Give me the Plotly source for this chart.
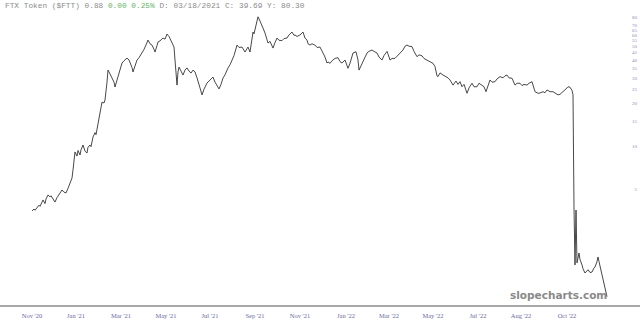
import plotly.graph_objects as go

# bar number (sequential session index) and close price
bars = [32,34,35,37,39,40,42,43,45,46,48,50,51,53,55,57,59,62,64,66,68,70,72,73,74,75,77,78,80,81,83,85,87,88,90,91,93,95,96,98,
        100,101,102,104,105,107,108,110,112,114,115,117,118,120,122,124,127,129,130,132,133,135,137,139,142,144,146,148,150,152,
        154,155,157,158,160,163,165,167,169,172,174,175,176,177,178,179,181,183,185,187,189,191,193,195,197,198,200,202,204,207,
        209,211,213,215,217,219,221,223,225,226,228,230,232,234,237,239,242,244,245,247,248,250,251,253,254,255,257,258,260,262,
        263,265,267,268,270,273,275,277,279,282,284,287,289,292,294,295,297,300,303,305,307,308,310,312,315,317,320,322,323,325,
        327,328,330,332,335,338,340,342,345,347,348,350,353,356,358,359,361,363,365,367,369,372,374,377,379,382,384,387,389,390,
        392,395,397,400,403,405,407,409,412,414,417,419,422,424,427,430,433,435,437,438,440,443,446,448,450,452,453,456,458,460,
        462,464,466,467,469,472,474,477,479,482,484,486,488,490,492,495,497,500,503,505,507,509,512,514,515,517,520,522,524,527,
        529,532,534,535,538,540,543,545,547,550,553,555,558,560,563,565,567,568,570,572,573,574,575,576,577,579,580,582,583,585,
        587,588,590,592,594,595,597,598,599,601,602,603,605,607]
close = [3.51,3.62,3.55,3.68,3.85,3.78,4.05,4.19,3.95,4.25,4.54,4.40,4.48,4.25,4.05,4.35,4.60,4.92,4.75,4.69,
         5.05,5.50,5.97,6.8,8.2,9.08,8.5,9.3,8.65,9.4,10.16,9.2,8.93,9.8,10.16,9.9,11.56,12.4,12.0,14.49,
         17.0,19.5,20.3,20.0,20.99,28.0,34.0,32.0,29.9,28.0,25.9,29.0,30.4,34.5,38.1,39.5,41.3,40.0,38.7,35.5,
         33.0,37.0,40.0,41.5,44.8,47.5,51.0,55.2,52.0,50.9,47.5,45.5,50.5,53.5,54.5,57.0,56.0,60.8,58.5,53.5,
         49.3,40.0,32.0,26.7,33.0,35.7,33.5,31.4,34.0,35.2,33.5,32.4,34.0,33.0,30.0,28.1,25.5,22.8,25.0,27.6,
         28.5,29.6,30.4,28.0,26.7,25.1,27.0,29.9,31.5,32.8,35.2,37.0,40.0,43.0,50.9,49.0,49.3,46.0,45.5,48.0,
         49.3,45.5,52.0,62.8,61.0,64.9,72.0,80.3,75.0,70.3,67.0,61.8,56.0,52.6,54.0,48.5,53.0,57.0,55.0,54.7,
         56.5,57.0,60.0,62.8,59.5,59.9,58.5,59.9,62.8,57.0,55.2,52.0,50.9,52.0,50.9,49.0,49.3,46.5,44.8,42.0,
         38.1,38.8,37.9,39.5,41.1,41.5,39.0,38.1,40.0,36.0,35.0,38.0,44.8,45.7,40.0,34.0,36.5,40.0,42.5,44.8,
         46.0,47.0,46.0,44.8,42.0,40.0,43.0,46.0,42.0,40.0,41.0,41.1,42.5,44.8,47.0,50.0,50.9,50.0,49.6,46.0,
         42.2,43.5,42.8,41.0,40.0,39.0,37.9,36.0,31.0,30.6,32.5,31.4,30.5,30.0,29.0,27.5,26.7,28.5,27.0,28.2,
         26.0,27.0,24.0,23.4,25.5,27.5,26.0,26.0,27.5,26.7,26.0,24.0,26.5,29.0,28.0,28.2,29.5,30.6,30.0,31.0,
         31.4,30.0,29.8,27.5,26.7,27.5,27.5,26.5,27.0,26.7,27.5,28.2,25.5,24.0,23.4,23.5,24.0,23.6,24.7,24.0,
         24.0,23.5,22.8,23.0,24.0,24.5,25.5,26.0,25.8,24.5,22.8,3.68,1.47,3.56,1.52,1.78,1.60,1.47,1.38,1.29,
         1.34,1.36,1.30,1.31,1.40,1.42,1.55,1.67,1.55,1.36,1.25,1.15,1.00,0.88]

tick_bars = [32, 76, 121, 166, 210, 255, 300, 346, 389, 433, 478, 521, 567]
tick_labels = ["Nov '20", "Jan '21", "Mar '21", "May '21", "Jul '21", "Sep '21", "Nov '21",
               "Jan '22", "Mar '22", "May '22", "Jul '22", "Aug '22", "Oct '22"]
price_ticks = [5, 10, 15, 20, 25, 30, 35, 40, 45, 50, 55, 60, 65, 70, 80]

fig = go.Figure()
fig.add_trace(go.Scatter(x=bars, y=close, mode="lines",
                         line=dict(color="#333333", width=0.9), hoverinfo="skip"))

fig.update_layout(
    width=640, height=324,
    margin=dict(l=0, r=0, t=0, b=19),
    paper_bgcolor="white", plot_bgcolor="white",
    showlegend=False,
    xaxis=dict(range=[0, 640], showgrid=False, zeroline=False,
               showline=True, linecolor="#a8a8a8", linewidth=2,
               tickmode="array", tickvals=tick_bars, ticktext=tick_labels,
               ticks="", tickfont=dict(family="Liberation Serif", size=6.5, color="#6a6aa8"),
               ticklabelstandoff=3),
    yaxis=dict(type="log", range=[-0.1135, 2.0224], side="right",
               showgrid=False, zeroline=False, showline=False,
               tickmode="array", tickvals=price_ticks, ticktext=[str(v) for v in price_ticks],
               ticks="", ticklabelposition="inside",
               tickfont=dict(family="Liberation Serif", size=5, color="#8a8ac0")),
    annotations=[
        dict(xref="paper", yref="paper", x=0.004, y=1.0, xanchor="left", yanchor="top",
             showarrow=False,
             text="FTX Token ($FTT) 0.88 <span style='color:#5cb85c'>0.00 0.25%</span> D: 03/18/2021 C: 39.69 Y: 80.30",
             font=dict(family="Liberation Mono", size=7.8, color="#8c8c8c")),
        dict(xref="paper", yref="paper", x=0.951, y=0.005, xanchor="right", yanchor="bottom",
             showarrow=False, text="<b>slopecharts.com</b>",
             font=dict(family="DejaVu Sans", size=10.5, color="#8a8a8a")),
    ],
)

fig.write_html("out.html")
